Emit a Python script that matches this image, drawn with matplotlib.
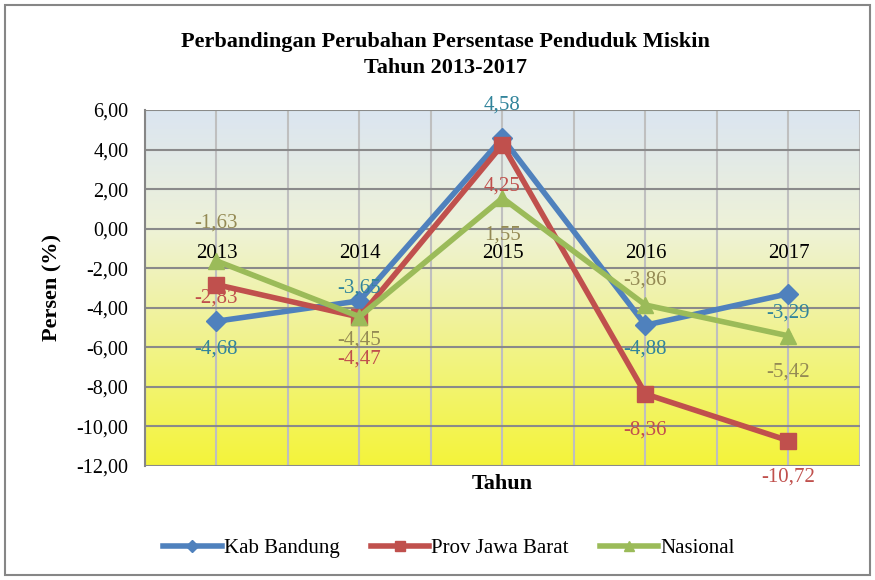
import matplotlib
matplotlib.use('Agg')
import matplotlib.pyplot as plt
from matplotlib.colors import LinearSegmentedColormap
from matplotlib.patches import Rectangle
import numpy as np

# //--------------------------< data >--------------------------\\

years = ['2013', '2014', '2015', '2016', '2017']
kab_bandung = [-4.68, -3.65, 4.58, -4.88, -3.29]
prov_jabar = [-2.83, -4.47, 4.25, -8.36, -10.72]
nasional = [-1.63, -4.45, 1.55, -3.86, -5.42]

# label offsets in points (above = +, below = -)
kab_off = [-20, 9, 24, -17, -14]
prov_off = [-10, -30, -30, -26, -26]
nas_off = [27, -17, -27, 18, -26]

plt.rcParams['font.family'] = ['Liberation Serif', 'DejaVu Serif']

fig = plt.figure(figsize=(8.75, 5.8), dpi=100)
ax = fig.add_axes([0.1657, 0.1966, 0.8171, 0.6137])

# background gradient
cmap = LinearSegmentedColormap.from_list('bg', [(0, '#f4f43a'), (0.67, '#eef2d8'), (1, '#dbe5f1')])
grad = np.linspace(0, 1, 256).reshape(-1, 1)
ax.imshow(grad, extent=[-0.5, 4.5, -12, 6], origin='lower', aspect='auto', cmap=cmap, zorder=0)

x = np.arange(len(years))
for i in np.arange(-0.5, 4.6, 0.5):
    ax.axvline(i, color='#bfbfbf', lw=1.5, zorder=1)
for v in np.arange(-12, 7, 2):
    ax.axhline(v, color='#8a8a8a', lw=1.5, zorder=1)

ax.plot(x, kab_bandung, color='#4f81bd', lw=4, marker='D', ms=10, zorder=3, label='Kab Bandung')
ax.plot(x, prov_jabar, color='#c0504d', lw=4, marker='s', ms=11, zorder=4, label='Prov Jawa Barat')
ax.plot(x, nasional, color='#9bbb59', lw=4, marker='^', ms=12, zorder=5, label='Nasional')

def fmt(v):
    return ('%.2f' % v).replace('.', ',')

for vals, offs, col in [(kab_bandung, kab_off, '#31849b'), (prov_jabar, prov_off, '#c0504d'), (nasional, nas_off, '#948a54')]:
    for i in range(len(vals)):
        ax.annotate(fmt(vals[i]), (x[i], vals[i]), xytext=(0, offs[i]), textcoords='offset points',
                    ha='center', va='center', color=col, fontsize=15, zorder=6)

# category labels sit on the zero line
for i in range(len(years)):
    ax.annotate(years[i], (x[i], 0), xytext=(0, -18), textcoords='offset points',
                ha='center', va='center', fontsize=15, zorder=2)

ax.set_xlim(-0.5, 4.5)
ax.set_ylim(-12, 6)
ax.set_xticks([])
ax.set_yticks(np.arange(-12, 7, 2))
ax.set_yticklabels([fmt(v) for v in np.arange(-12, 7, 2)], fontsize=14.5)
ax.tick_params(axis='y', length=0, pad=12)
for s in ['top', 'right', 'bottom']:
    ax.spines[s].set_visible(False)
ax.spines['left'].set_color('#868686')
ax.spines['left'].set_linewidth(1.5)

ax.set_ylabel('Persen (%)', fontsize=16, fontweight='bold', labelpad=10)
ax.set_xlabel('Tahun', fontsize=16, fontweight='bold', labelpad=6)

fig.text(0.509, 0.928, 'Perbandingan Perubahan Persentase Penduduk Miskin', ha='center', va='center',
         fontsize=16, fontweight='bold')
fig.text(0.509, 0.883, 'Tahun 2013-2017', ha='center', va='center', fontsize=16, fontweight='bold')

fig.legend(loc='center', bbox_to_anchor=(0.513, 0.055), ncol=3, frameon=False, fontsize=15,
           handlelength=2.8, columnspacing=1.5, handletextpad=0.1, markerscale=0.65)

fig.patches.append(Rectangle((0.006, 0.008), 0.988, 0.984, transform=fig.transFigure,
                             fill=False, edgecolor='#868686', lw=1.5))

fig.savefig('out.png', dpi=100)
